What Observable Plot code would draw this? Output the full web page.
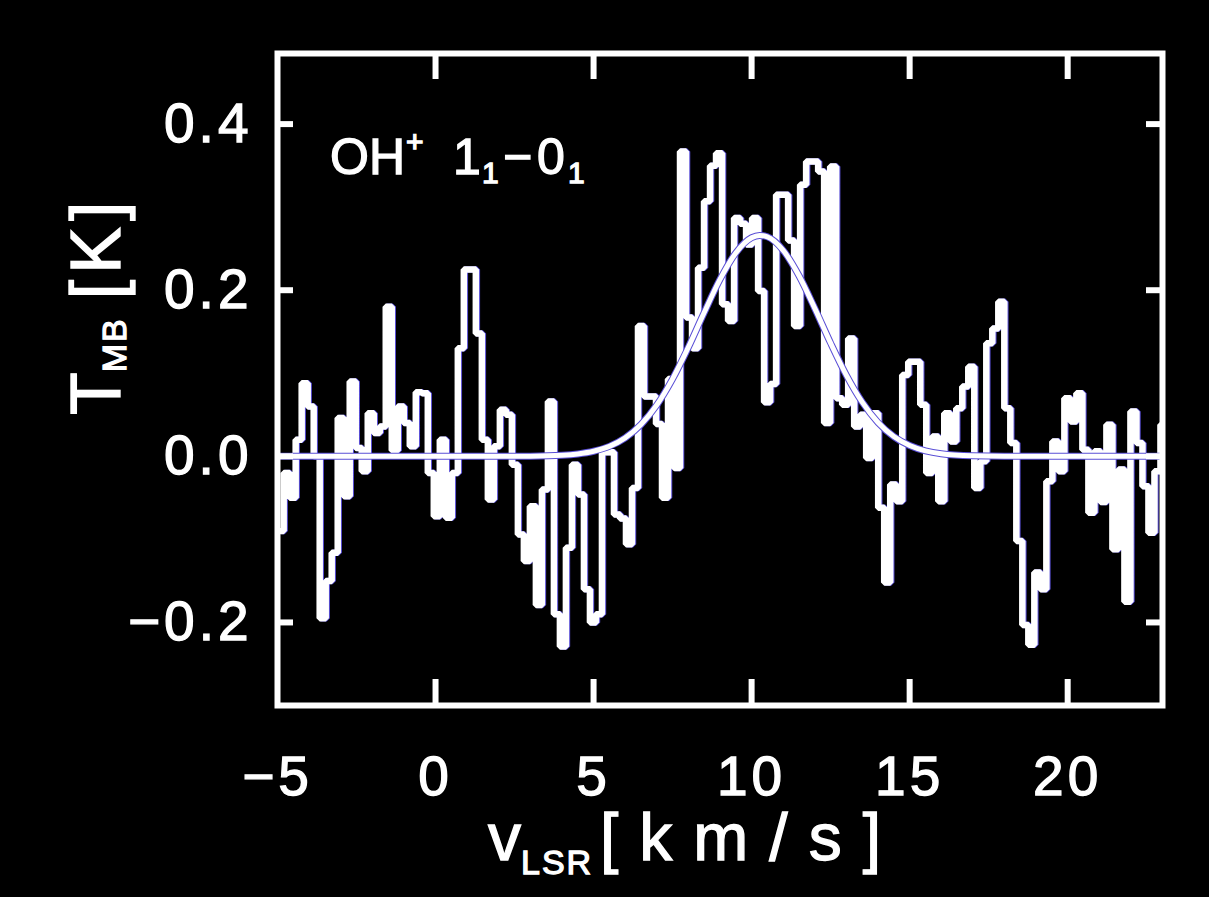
<!DOCTYPE html>
<html><head><meta charset="utf-8">
<script src="https://cdn.jsdelivr.net/npm/d3@7"></script>
<script src="https://cdn.jsdelivr.net/npm/@observablehq/plot@0.6"></script>
<style>
html,body{margin:0;padding:0;background:#000;}
#chart{width:1209px;height:897px;overflow:hidden;}
#chart text{stroke:#fff;stroke-width:1.3px;}
</style></head><body><div id="chart"></div>
<script>
// Channel centre velocities (km/s)
const velocity = [-4.9,-4.71,-4.52,-4.33,-4.14,-3.95,-3.76,-3.57,-3.38,-3.19,-3.0,-2.81,-2.62,-2.43,-2.24,-2.05,-1.86,-1.67,-1.48,-1.29,-1.1,-0.91,-0.72,-0.53,-0.34,-0.15,0.04,0.23,0.42,0.61,0.8,0.99,1.18,1.37,1.56,1.75,1.94,2.13,2.32,2.51,2.7,2.89,3.08,3.27,3.46,3.65,3.84,4.03,4.22,4.41,4.6,4.79,4.98,5.17,5.36,5.55,5.74,5.93,6.12,6.31,6.5,6.69,6.88,7.07,7.26,7.45,7.64,7.83,8.02,8.21,8.4,8.59,8.78,8.97,9.16,9.35,9.54,9.73,9.92,10.11,10.3,10.49,10.68,10.87,11.06,11.25,11.44,11.63,11.82,12.01,12.2,12.39,12.58,12.77,12.96,13.15,13.34,13.53,13.72,13.91,14.1,14.29,14.48,14.67,14.86,15.05,15.24,15.43,15.62,15.81,16.0,16.19,16.38,16.57,16.76,16.95,17.14,17.33,17.52,17.71,17.9,18.09,18.28,18.47,18.66,18.85,19.04,19.23,19.42,19.61,19.8,19.99,20.18,20.37,20.56,20.75,20.94,21.13,21.32,21.51,21.7,21.89,22.08,22.27,22.46,22.65,22.84,23.03];
// Main-beam temperature per channel (K)
const tmb = [-0.09,-0.02,-0.05,0.02,0.088,0.06,0.0,-0.195,-0.15,-0.116,0.046,-0.048,0.09,0.01,-0.018,0.052,0.028,0.036,0.18,0.007,0.06,0.04,0.012,0.077,0.076,-0.02,-0.072,0.02,-0.074,-0.02,0.13,0.225,0.225,0.148,0.02,-0.052,0.012,0.056,0.05,-0.01,-0.094,-0.126,-0.06,-0.179,-0.04,0.066,-0.19,-0.229,-0.11,-0.01,-0.046,-0.16,-0.2,-0.19,0.005,0.005,-0.07,-0.075,-0.106,-0.038,0.157,0.072,0.072,0.039,-0.05,0.093,-0.014,0.367,0.167,0.13,0.227,0.307,0.35,0.365,0.183,0.163,0.287,0.28,0.255,0.287,0.199,0.065,0.087,0.315,0.315,0.26,0.157,0.327,0.355,0.355,0.343,0.04,0.349,0.07,0.062,0.142,0.036,0.05,-0.002,0.052,-0.062,-0.152,-0.034,-0.054,0.098,0.114,0.114,0.062,-0.02,0.024,-0.054,0.052,0.018,0.058,0.084,0.108,-0.038,-0.006,0.136,0.154,0.186,0.058,0.016,-0.102,-0.203,-0.227,-0.14,-0.16,-0.03,0.018,-0.018,0.07,0.042,0.076,0.008,-0.068,0.006,-0.055,0.038,-0.112,-0.016,-0.175,0.054,0.016,-0.036,-0.092,-0.018,0.038];
// Gaussian fit curve
const fitVelocity = [-5,-4,-3,-2,-1,0,1,2,3,4,4.5,5,5.5,6,6.5,7,7.5,8,8.5,9,9.5,10,10.25,10.5,11,11.5,12,12.5,13,13.5,14,14.5,15,15.5,16,17,18,19,20,21,22,23];
const fitTmb = [0,0,0,0,0,0,0,0,0.0002,0.0013,0.0029,0.0061,0.012,0.0222,0.0383,0.0618,0.0933,0.1314,0.1731,0.213,0.2449,0.2632,0.266,0.2643,0.2479,0.2174,0.1781,0.1363,0.0975,0.0652,0.0407,0.0238,0.013,0.0066,0.0031,0.0006,0,0,0,0,0,0];
const xTicks = [-5, 0, 5, 10, 15, 20];
const yTicks = [-0.2, 0, 0.2, 0.4];
const xDomain = [-5, 23];
const yDomain = [-0.3, 0.485];

const spectrum = velocity.map((v, i) => ({v, t: tmb[i]}));
const fit = fitVelocity.map((v, i) => ({v, t: fitTmb[i]}));

const W = 1209, H = 897, mL = 277, mR = 47, mT = 53, mB = 192;
const innerW = W - mL - mR, innerH = H - mT - mB;
const font = "'Liberation Sans', Arial, Helvetica, sans-serif";
const blue = "#5a4fd6";
const minus = d => (d < 0 ? "\u2212" : "") + Math.abs(d);
const fmtY = d => (d < 0 ? "\u2212" : "") + Math.abs(d).toFixed(1);

const plot = Plot.plot({
  width: W, height: H,
  marginLeft: mL, marginRight: mR, marginTop: mT, marginBottom: mB,
  style: {background: "#000", color: "#fff", fontFamily: font, fontSize: "55px", letterSpacing: "4px"},
  x: {domain: xDomain},
  y: {domain: yDomain},
  marks: [
    Plot.line(spectrum, {x: "v", y: "t", curve: "step", stroke: blue, strokeWidth: 6.5, dx: 1, clip: true, strokeLinejoin: "miter"}),
    Plot.line(spectrum, {x: "v", y: "t", curve: "step", stroke: "#fff", strokeWidth: 6.5, clip: true, strokeLinejoin: "miter"}),
    Plot.line(fit, {x: "v", y: "t", curve: "monotone-x", stroke: blue, strokeWidth: 7, clip: true}),
    Plot.line(fit, {x: "v", y: "t", curve: "monotone-x", stroke: "#fff", strokeWidth: 5, clip: true}),
    Plot.tickX(xTicks.filter(d => d > xDomain[0]), {x: d => d, stroke: "#fff", strokeWidth: 6, insetTop: innerH - 26}),
    Plot.tickX(xTicks.filter(d => d > xDomain[0]), {x: d => d, stroke: "#fff", strokeWidth: 6, insetBottom: innerH - 26}),
    Plot.tickY(yTicks, {y: d => d, stroke: "#fff", strokeWidth: 6, insetRight: innerW - 16}),
    Plot.tickY(yTicks, {y: d => d, stroke: "#fff", strokeWidth: 6, insetLeft: innerW - 16}),
    Plot.frame({stroke: "#fff", strokeWidth: 6}),
    Plot.axisX({ticks: xTicks, tickSize: 0, tickPadding: 50, tickFormat: minus, label: null}),
    Plot.axisY({ticks: yTicks, tickSize: 0, tickPadding: 25, tickFormat: fmtY, label: null})
  ]
});
document.getElementById("chart").appendChild(plot);

const svg = d3.select(plot);
// x-axis title
const xt = svg.append("text").attr("fill", "#fff").attr("text-anchor", "start").attr("x", 488).attr("y", 860)
  .style("font-family", font).style("font-size", "66px").style("letter-spacing", "0px");
xt.append("tspan").text("v");
xt.append("tspan").attr("dy", 14).style("font-size", "34px").style("letter-spacing", "2px").text("LSR");
xt.append("tspan").attr("x", 600).attr("dy", -14).style("letter-spacing", "21px").text("[km/s]");

// y-axis title
const yt = svg.append("text").attr("fill", "#fff").attr("text-anchor", "start").attr("transform", "translate(120,415) rotate(-90)")
  .style("font-family", font).style("font-size", "70px").style("letter-spacing", "0px");
yt.append("tspan").text("T");
yt.append("tspan").attr("dy", 6).style("font-size", "34px").style("letter-spacing", "2px").text("MB");
yt.append("tspan").attr("dy", -6).attr("dx", 18).style("letter-spacing", "6px").text("[K]");

// line annotation
const an = svg.append("text").attr("fill", "#fff").attr("text-anchor", "start").attr("y", 174)
  .style("font-family", font).style("font-size", "50px").style("letter-spacing", "0px");
an.append("tspan").attr("x", 330).text("OH");
an.append("tspan").attr("x", 406).attr("dy", -22).style("font-size", "30px").text("+");
an.append("tspan").attr("x", 453).attr("dy", 22).text("1");
an.append("tspan").attr("x", 482).attr("dy", 9).style("font-size", "30px").text("1");
an.append("tspan").attr("x", 503).attr("dy", -9).text("\u2212");
an.append("tspan").attr("x", 537).text("0");
an.append("tspan").attr("x", 568).attr("dy", 9).style("font-size", "30px").text("1");
</script>
</body></html>
